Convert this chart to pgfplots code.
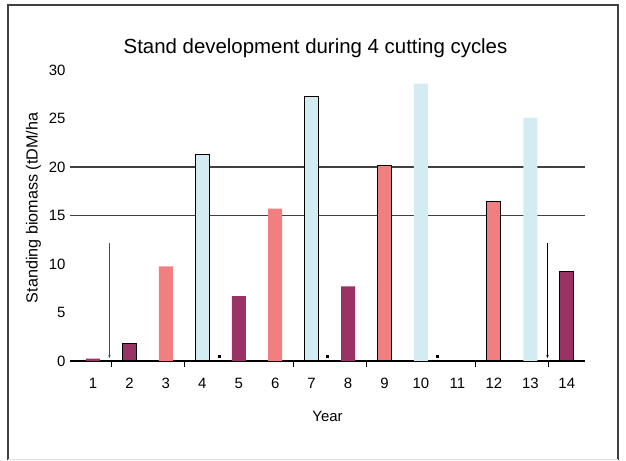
\documentclass[border=0pt]{standalone}
\usepackage{pgfplots}
\pgfplotsset{compat=1.18}
\usepackage{fontspec}
\setmainfont{Liberation Sans}
\usetikzlibrary{arrows.meta}
\definecolor{cpurple}{HTML}{993366}
\definecolor{csalmon}{HTML}{F27F7F}
\definecolor{cblue}{HTML}{D2ECF2}
\definecolor{cgrid}{HTML}{404040}
\begin{document}
\begin{tikzpicture}[x=1bp,y=1bp]
\path[use as bounding box] (0,0) rectangle (626,461);
\draw[line width=2bp, cgrid] (8,1) -- (8,456) -- (618,456) -- (618,1);
\draw[line width=1bp, gray!25] (8,1) -- (618,1);
\begin{axis}[
  at={(70bp,100bp)}, anchor=south west,
  scale only axis, width=515bp, height=291bp,
  xmin=0.37, xmax=14.5, ymin=0, ymax=30,
  axis x line*=bottom, axis y line*=left,
  x axis line style={line width=1.2bp, black, -},
  y axis line style={draw=none},
  xtick={1,...,14}, ytick={0,5,...,30},
  major tick length=0pt,
  minor xtick={1.5,3.5,6.5,8.5,11.5,13.5},
  minor tick length=6bp,
  xtick align=outside,
  xtick style={draw=none},
  minor x tick style={draw=black, line width=1bp},
  ytick style={draw=none},
  extra y ticks={15,20}, extra y tick labels={},
  extra y tick style={grid=major, major grid style={cgrid, line width=1.4bp}},
  tick label style={font=\fontsize{15}{17}\selectfont},
  xticklabel style={yshift=-14bp},
  yticklabel style={xshift=-1bp},
  /pgf/number format/assume math mode=true,
  title={Stand development during 4 cutting cycles},
  title style={font=\fontsize{20.5}{23}\selectfont, at={(0.5,1)}, anchor=south, yshift=3bp, xshift=-12bp},
  xlabel={Year}, ylabel={Standing biomass (tDM/ha},
  label style={font=\fontsize{15}{17}\selectfont},
  xlabel style={yshift=-15bp},
  ylabel style={font=\fontsize{16.2}{18}\selectfont, at={(ticklabel cs:0.526)}, yshift=1bp},
  clip=false,
]
% purple, no outline
\addplot[ybar, bar shift=0pt, bar width=14bp, fill=cpurple, draw=none] coordinates {(1,0.25) (5,6.7) (8,7.7)};
% purple, outline
\addplot[ybar, bar shift=0pt, bar width=14bp, fill=cpurple, draw=black, line width=1bp] coordinates {(2,1.8) (14,9.25)};
% salmon, no outline
\addplot[ybar, bar shift=0pt, bar width=14bp, fill=csalmon, draw=none] coordinates {(3,9.75) (6,15.7)};
% salmon, outline
\addplot[ybar, bar shift=0pt, bar width=14bp, fill=csalmon, draw=black, line width=1bp] coordinates {(9,20.2) (12,16.4)};
% blue, outline
\addplot[ybar, bar shift=0pt, bar width=14bp, fill=cblue, draw=black, line width=1bp] coordinates {(4,21.3) (7,27.3)};
% blue, no outline
\addplot[ybar, bar shift=0pt, bar width=14bp, fill=cblue, draw=none] coordinates {(10,28.6) (13,25.1)};
% cutting arrows
\addplot[gray!60!black, line width=0.7bp, -{Stealth[length=3bp,width=2.5bp]}] coordinates {(1.45,12.2) (1.45,0.3)};
\addplot[black, line width=0.7bp, -{Stealth[length=3bp,width=2.5bp]}] coordinates {(13.47,12.2) (13.47,0.3)};
\addplot[only marks, mark=square*, mark size=1bp, black] coordinates {(4.46,0.5) (7.43,0.5) (10.45,0.5)};
\end{axis}
\end{tikzpicture}
\end{document}
